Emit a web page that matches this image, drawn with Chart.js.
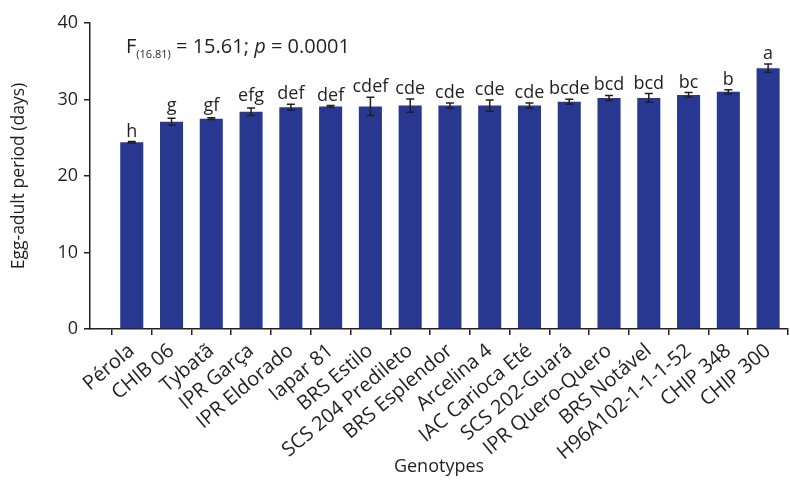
<!DOCTYPE html>
<html>
<head>
<meta charset="utf-8">
<script src="https://cdn.jsdelivr.net/npm/chart.js@4/dist/chart.umd.min.js"></script>
<style>
  html, body { margin: 0; padding: 0; background: #fff; }
  #wrap { width: 790px; height: 482px; }
</style>
</head>
<body>
<div id="wrap"><canvas id="chart"></canvas></div>
<script>
const genotypes = ['Pérola', 'CHIB 06', 'Tybatã', 'IPR Garça', 'IPR Eldorado', 'Iapar 81', 'BRS Estilo',
  'SCS 204 Predileto', 'BRS Esplendor', 'Arcelina 4', 'IAC Carioca Eté', 'SCS 202-Guará',
  'IPR Quero-Quero', 'BRS Notável', 'H96A102-1-1-1-52', 'CHIP 348', 'CHIP 300'];
const means = [24.4, 27.1, 27.5, 28.4, 29.0, 29.1, 29.1, 29.2, 29.2, 29.2, 29.2, 29.7, 30.2, 30.2, 30.6, 31.0, 34.1];
const errors = [0.1, 0.45, 0.1, 0.5, 0.37, 0.1, 1.18, 0.87, 0.35, 0.74, 0.33, 0.33, 0.33, 0.57, 0.3, 0.28, 0.55];
const groups = ['h', 'g', 'gf', 'efg', 'def', 'def', 'cdef', 'cde', 'cde', 'cde', 'cde', 'bcde', 'bcd', 'bcd', 'bc', 'b', 'a'];
const yTicks = [0, 10, 20, 30, 40];

const FONT = 'Open Sans, Noto Sans, sans-serif';
const INK = '#231f20';

// error bars + letter groups drawn over the bars
const barExtras = {
  id: 'barExtras',
  afterDatasetsDraw(chart) {
    const ctx = chart.ctx;
    const y = chart.scales.y;
    const meta = chart.getDatasetMeta(0);
    ctx.save();
    ctx.strokeStyle = INK;
    ctx.lineWidth = 1.5;
    meta.data.forEach((bar, i) => {
      const top = y.getPixelForValue(means[i] + errors[i]);
      const bot = y.getPixelForValue(means[i] - errors[i]);
      ctx.beginPath();
      ctx.moveTo(bar.x, top); ctx.lineTo(bar.x, bot);
      ctx.moveTo(bar.x - 4, top); ctx.lineTo(bar.x + 4, top);
      ctx.moveTo(bar.x - 4, bot); ctx.lineTo(bar.x + 4, bot);
      ctx.stroke();
      ctx.fillStyle = INK;
      ctx.font = '18px ' + FONT;
      ctx.textAlign = 'center';
      ctx.textBaseline = 'alphabetic';
      // lift labels with a descender so the tail clears the cap
      const lift = /[gjpqy]/.test(groups[i]) ? 7 : 5;
      ctx.fillText(groups[i], bar.x, top - lift);
    });
    ctx.restore();
  }
};

// F statistic annotation
const statText = {
  id: 'statText',
  afterDraw(chart) {
    const ctx = chart.ctx;
    let x = 126;
    const base = 53;
    ctx.save();
    ctx.fillStyle = INK;
    ctx.textBaseline = 'alphabetic';
    ctx.textAlign = 'left';
    const part = (txt, font, dy) => {
      ctx.font = font;
      ctx.fillText(txt, x, base + (dy || 0));
      x += ctx.measureText(txt).width;
    };
    part('F', '20px ' + FONT);
    part('(16.81)', '11px ' + FONT, 5);
    part(' = 15.61; ', '20px ' + FONT);
    part('p', 'italic 20px ' + FONT);
    part(' = 0.0001', '20px ' + FONT);
    ctx.restore();
  }
};

new Chart(document.getElementById('chart'), {
  type: 'bar',
  data: {
    datasets: [{
      data: means.map((v, i) => ({ x: i, y: v })),
      backgroundColor: '#283891',
      barPercentage: 0.58,
      categoryPercentage: 1
    }]
  },
  options: {
    responsive: true,
    maintainAspectRatio: false,
    animation: false,
    layout: { padding: { top: 23, right: 2, left: 0, bottom: 0 } },
    plugins: { legend: { display: false }, tooltip: { enabled: false } },
    scales: {
      x: {
        type: 'linear',
        offset: false,
        min: -1.05,
        max: 16.5,
        afterBuildTicks(scale) { scale.ticks = genotypes.map((g, i) => ({ value: i })); },
        afterFit(scale) { scale.height = 153; },
        ticks: {
          autoSkip: false,
          minRotation: 40,
          maxRotation: 40,
          padding: 4,
          color: INK,
          font: { family: FONT, size: 20 },
          callback: (v) => genotypes[v]
        },
        grid: { drawOnChartArea: false, drawTicks: true, tickLength: 6, color: INK, lineWidth: 1.5 },
        border: { color: INK, width: 1.5 },
        title: {
          display: true, text: 'Genotypes', color: INK,
          font: { family: FONT, size: 18 }, padding: { top: 0, bottom: 4 }
        }
      },
      y: {
        min: 0,
        max: 40,
        afterBuildTicks(scale) { scale.ticks = yTicks.map(v => ({ value: v })); },
        afterFit(scale) { scale.width = 90; },
        ticks: { color: INK, padding: 6, font: { family: FONT, size: 18 } },
        grid: { drawOnChartArea: false, drawTicks: true, tickLength: 6, color: INK, lineWidth: 1.5 },
        border: { color: INK, width: 1.5 },
        title: {
          display: true, text: 'Egg-adult period (days)', color: INK,
          font: { family: FONT, size: 17.5 }, padding: { top: 9, bottom: 4 }
        }
      }
    }
  },
  plugins: [barExtras, statText]
});
</script>
</body>
</html>
